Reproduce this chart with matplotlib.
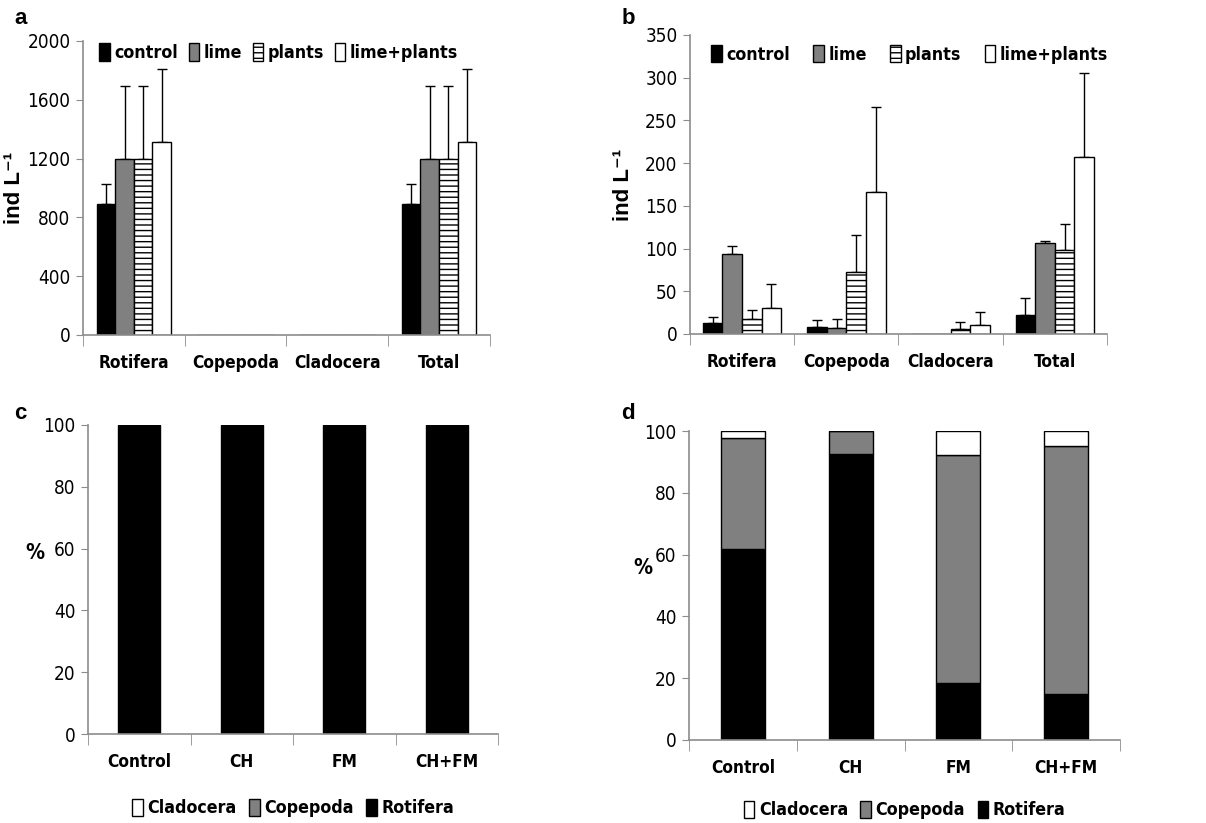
import numpy as np
import matplotlib
matplotlib.use("Agg")
import matplotlib.pyplot as plt
from matplotlib.patches import Patch
from matplotlib import font_manager

# pick a narrow face if one is installed, else plain Liberation Sans at smaller size
_fonts = font_manager.fontManager.ttflist
_names = {f.name for f in _fonts}
if "Liberation Sans Narrow" in _names:
    NARROW, STRETCH, K = "Liberation Sans Narrow", "normal", 1.0
elif any(f.name == "DejaVu Sans" and f.stretch == "condensed" for f in _fonts):
    NARROW, STRETCH, K = "DejaVu Sans", "condensed", 0.8
else:
    NARROW, STRETCH, K = "Liberation Sans", "normal", 0.8

plt.rcParams["font.family"] = [NARROW, "DejaVu Sans"]
plt.rcParams["font.stretch"] = STRETCH
plt.rcParams["hatch.linewidth"] = 1.0

# panels a and b: abundance per group and treatment
groups = ["Rotifera", "Copepoda", "Cladocera", "Total"]
treatments = ["control", "lime", "plants", "lime+plants"]

a_vals = {
    "control": [893, 0, 0, 893],
    "lime": [1195, 0, 0, 1195],
    "plants": [1195, 0, 0, 1195],
    "lime+plants": [1312, 0, 0, 1312],
}
a_err_top = {
    "control": [1025, 0, 0, 1025],
    "lime": [1695, 0, 0, 1695],
    "plants": [1695, 0, 0, 1695],
    "lime+plants": [1810, 0, 0, 1810],
}

b_vals = {
    "control": [13, 8, 0.5, 22],
    "lime": [94, 7, 0, 106],
    "plants": [18, 73, 6, 98],
    "lime+plants": [30, 166, 10, 207],
}
b_err_top = {
    "control": [20, 16, 0.5, 42],
    "lime": [103, 18, 0, 109],
    "plants": [28, 116, 14, 129],
    "lime+plants": [58, 266, 26, 305],
}

# panels c and d: relative composition (%)
sites = ["Control", "CH", "FM", "CH+FM"]
c_rotifera = [100, 100, 100, 100]
c_copepoda = [0, 0, 0, 0]
c_cladocera = [0, 0, 0, 0]

d_rotifera = [61.7, 92.7, 18.5, 14.8]
d_copepoda = [36.0, 7.3, 73.8, 80.2]
d_cladocera = [2.3, 0.0, 7.7, 5.0]

GRAY = "#808080"
AXC = "#8c8c8c"
styles = {
    "control": dict(color="black"),
    "lime": dict(color=GRAY),
    "plants": dict(color="white", hatch="---"),
    "lime+plants": dict(color="white"),
}
LEG = {"weight": "bold", "size": 16 * K, "stretch": STRETCH}

fig = plt.figure(figsize=(12.06, 8.23), dpi=100)


def style_axes(ax, labels, ymax, ystep):
    ax.set_xlim(-0.5, len(labels) - 0.5)
    ax.set_ylim(0, ymax)
    ax.set_yticks(np.arange(0, ymax + 1, ystep))
    ax.set_xticks(range(len(labels)))
    ax.set_xticklabels(labels, fontsize=15.5 * K, fontweight="bold")
    ax.set_xticks(np.arange(-0.5, len(labels)), minor=True)
    ax.tick_params(axis="x", which="major", length=0, pad=14)
    ax.tick_params(axis="x", which="minor", length=8, color=AXC, direction="out")
    ax.tick_params(axis="y", length=5, color=AXC, labelsize=17 * K, pad=4)
    for s in ["top", "right"]:
        ax.spines[s].set_visible(False)
    for s in ["left", "bottom"]:
        ax.spines[s].set_color(AXC)
        ax.spines[s].set_linewidth(1.2)


def grouped(ax, vals, errs, ymax, ystep, bw):
    x = np.arange(len(groups))
    for i, t in enumerate(treatments):
        pos = x + (i - 1.5) * bw
        v = np.array(vals[t], dtype=float)
        e = np.array(errs[t], dtype=float) - v
        st = styles[t]
        ax.bar(pos, v, bw, color=st["color"], hatch=st.get("hatch"),
               edgecolor="black", linewidth=1.0, zorder=2)
        show = e > 0
        ax.errorbar(pos[show], v[show], yerr=[np.zeros(show.sum()), e[show]],
                    fmt="none", ecolor="black", elinewidth=1.0, capsize=3.5,
                    capthick=1.0, zorder=1)
    style_axes(ax, groups, ymax, ystep)
    ax.set_ylabel("ind L⁻¹", fontsize=16, fontweight="bold",
                  family=["Liberation Sans", "DejaVu Sans"], stretch="normal")
    handles = [Patch(facecolor=styles[t]["color"], hatch=styles[t].get("hatch"),
                     edgecolor="black", linewidth=1.0) for t in treatments]
    return handles


ax_a = fig.add_axes([0.0688, 0.593, 0.3375, 0.3572])
h = grouped(ax_a, a_vals, a_err_top, 2000, 400, 0.183)
ax_a.yaxis.set_label_coords(-0.142, 0.5)
ax_a.legend(h, treatments, ncol=4, loc="center left", bbox_to_anchor=(0.0, 0.96),
            frameon=False, handlelength=0.6, handleheight=1.1,
            handletextpad=0.25, columnspacing=0.6, prop=LEG)

ax_b = fig.add_axes([0.5721, 0.5942, 0.3458, 0.3633])
h = grouped(ax_b, b_vals, b_err_top, 350, 50, 0.188)
ax_b.yaxis.set_label_coords(-0.135, 0.5)
ax_b.legend(h, treatments, ncol=4, loc="center left", bbox_to_anchor=(0.013, 0.935),
            frameon=False, handlelength=0.6, handleheight=1.1,
            handletextpad=0.25, columnspacing=1.3, prop=LEG)


def stacked(ax, rot, cop, cla, ylab_xy, leg_y):
    x = np.arange(len(sites))
    rot = np.array(rot, dtype=float)
    cop = np.array(cop, dtype=float)
    cla = np.array(cla, dtype=float)
    ax.bar(x, rot, 0.41, color="black", edgecolor="black", linewidth=1.0)
    ax.bar(x, cop, 0.41, bottom=rot, color=GRAY, edgecolor="black", linewidth=1.0)
    ax.bar(x, cla, 0.41, bottom=rot + cop, color="white", edgecolor="black", linewidth=1.0)
    style_axes(ax, sites, 100, 20)
    ax.set_ylabel("%", fontsize=19 * K, fontweight="bold", rotation=0,
                  va="center", ha="center")
    ax.yaxis.set_label_coords(*ylab_xy)
    handles = [Patch(facecolor=c, edgecolor="black", linewidth=1.0)
               for c in ["white", GRAY, "black"]]
    ax.legend(handles, ["Cladocera", "Copepoda", "Rotifera"], ncol=3,
              loc="center", bbox_to_anchor=(0.5, leg_y), frameon=False,
              handlelength=0.6, handleheight=1.1, handletextpad=0.25,
              columnspacing=0.7, prop=LEG)


ax_c = fig.add_axes([0.073, 0.1081, 0.340, 0.3755])
stacked(ax_c, c_rotifera, c_copepoda, c_cladocera, (-0.13, 0.586), -0.24)

ax_d = fig.add_axes([0.5713, 0.1009, 0.3574, 0.3754])
stacked(ax_d, d_rotifera, d_copepoda, d_cladocera, (-0.107, 0.557), -0.227)

for lbl, (x, y) in zip("abcd", [(0.012, 0.978), (0.515, 0.978), (0.012, 0.497), (0.515, 0.497)]):
    fig.text(x, y, lbl, fontsize=16, fontweight="bold", family=["Liberation Sans", "DejaVu Sans"],
             stretch="normal", va="center", ha="left")

fig.savefig("out.png", dpi=100)
